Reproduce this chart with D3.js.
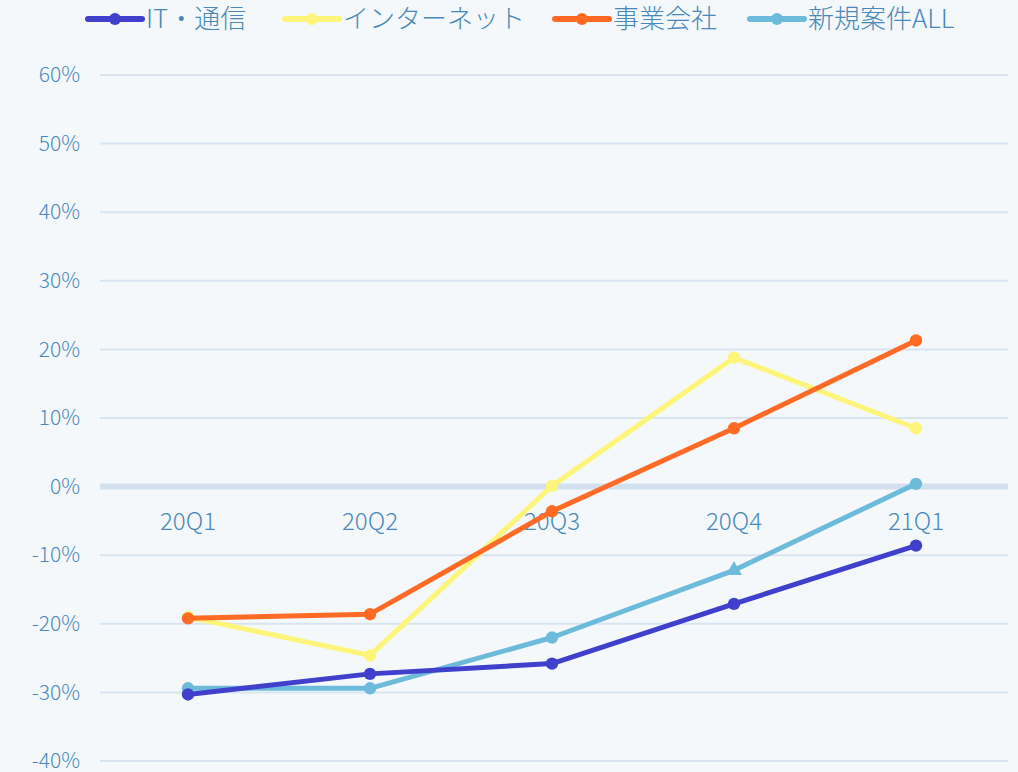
<!DOCTYPE html>
<html>
<head>
<meta charset="utf-8">
<script src="https://cdn.jsdelivr.net/npm/d3@7"></script>
<style>
  body { margin: 0; background: #f4f8fa; }
  svg { display: block; font-family: "Noto Sans CJK JP", "Noto Sans", sans-serif; }
</style>
</head>
<body>
<svg></svg>
<script>
// Data
const quarters = ['20Q1', '20Q2', '20Q3', '20Q4', '21Q1']
const yTicks = [-40, -30, -20, -10, 0, 10, 20, 30, 40, 50, 60]
const seriesNames = ['IT・通信', 'インターネット', '事業会社', '新規案件ALL']
const itValues = [-30.3, -27.3, -25.8, -17.1, -8.6]
const netValues = [-19.0, -24.6, 0.1, 18.8, 8.5]
const companyValues = [-19.2, -18.6, -3.6, 8.5, 21.3]
const allValues = [-29.4, -29.4, -22.0, -12.2, 0.4]

const colors = ['#4040cc', '#fdf57a', '#ff6a24', '#6dbbdb']
const textColor = '#4a88bb'

const width = 1018
const height = 772
const svg = d3.select('svg').attr('width', width).attr('height', height)

svg.append('rect').attr('width', width).attr('height', height).attr('fill', '#f4f8fa')

const xScale = d3.scaleBand().domain(quarters).range([97, 1007])
const yScale = d3.scaleLinear().domain([-40, 60]).range([761, 75])

// grid lines
svg.append('g')
    .selectAll('line')
    .data(yTicks)
    .enter()
    .append('line')
    .attr('x1', 100)
    .attr('x2', 1008)
    .attr('y1', d => yScale(d))
    .attr('y2', d => yScale(d))
    .attr('stroke', d => d === 0 ? '#d3e1ee' : '#d8e5f0')
    .attr('stroke-width', d => d === 0 ? 6 : 2)

// y labels
const yAxis = d3.axisLeft(yScale).tickValues(yTicks).tickFormat(d => d + '%').tickSize(0).tickPadding(0)
const yG = svg.append('g').attr('transform', 'translate(80,0)').call(yAxis)
yG.select('.domain').remove()
yG.selectAll('text')
    .attr('fill', textColor)
    .attr('font-size', 21)
    .attr('font-weight', 300)
    .attr('font-family', '"Noto Sans CJK JP", sans-serif')

// category labels below zero line
const xAxis = d3.axisBottom(xScale).tickSize(0).tickPadding(0)
const xG = svg.append('g').attr('transform', 'translate(0,' + (yScale(0) + 26) + ')').call(xAxis)
xG.select('.domain').remove()
xG.selectAll('text')
    .attr('fill', textColor)
    .attr('font-size', 24)
    .attr('font-weight', 300)
    .attr('font-family', '"Noto Sans CJK JP", sans-serif')

const allSeries = [itValues, netValues, companyValues, allValues]
const cx = q => xScale(q) + xScale.bandwidth() / 2

const line = d3.line()
    .x((d, i) => cx(quarters[i]))
    .y(d => yScale(d))

// draw order so dark blue sits on top like the reference
const order = [1, 2, 3, 0]
order.forEach(si => {
    const vals = allSeries[si]
    const g = svg.append('g')
    g.append('path')
        .datum(vals)
        .attr('d', line)
        .attr('fill', 'none')
        .attr('stroke', colors[si])
        .attr('stroke-width', 5)
        .attr('stroke-linejoin', 'round')
    g.selectAll('.pt')
        .data(vals)
        .enter()
        .append('path')
        .attr('transform', (d, i) => 'translate(' + cx(quarters[i]) + ',' + yScale(d) + ')')
        .attr('d', (d, i) => {
            const tri = si === 3 && i === 3
            return d3.symbol().type(tri ? d3.symbolTriangle : d3.symbolCircle).size(tri ? 110 : 120)()
        })
        .attr('fill', colors[si])
})

// legend
const legendX = [88, 285, 555, 750]
const legend = svg.append('g')
seriesNames.forEach((name, i) => {
    const g = legend.append('g').attr('transform', 'translate(' + legendX[i] + ',19)')
    g.append('line')
        .attr('x1', 0).attr('x2', 54)
        .attr('stroke', colors[i]).attr('stroke-width', 6).attr('stroke-linecap', 'round')
    g.append('circle').attr('cx', 27).attr('r', 6).attr('fill', colors[i])
    g.append('text')
        .attr('x', 58)
        .attr('dy', '0.35em')
        .attr('fill', textColor)
        .attr('font-size', 26)
        .attr('font-weight', 300)
        .text(name)
})
</script>
</body>
</html>
